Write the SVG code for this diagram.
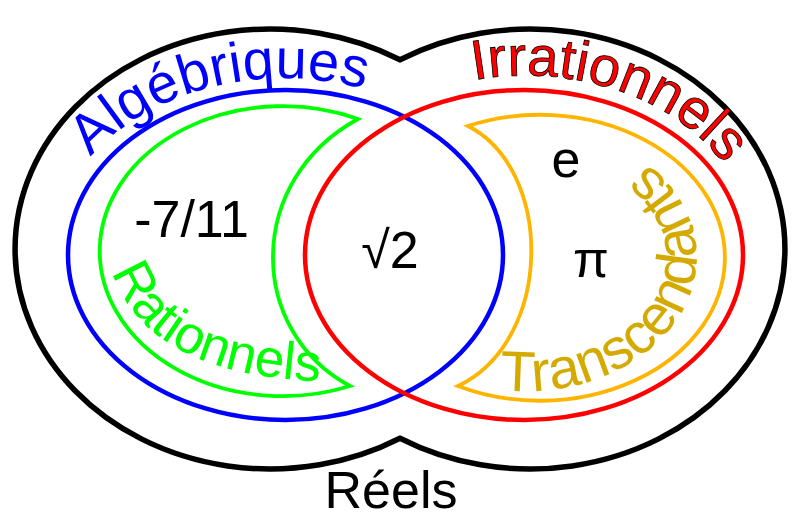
<svg xmlns="http://www.w3.org/2000/svg" xmlns:xlink="http://www.w3.org/1999/xlink" width="800" height="518" viewBox="0 0 800 518">
<style>
.t{font-family:"Liberation Sans",Arial,sans-serif;font-size:52px}
.c{font-size:56px}
.shape{fill:none}
</style>
<defs>
<path id="pAlg" d="M91,157 A232,176 0 0,1 503,195.5"/>
<path id="pIrr" d="M474,80 A229,176 0 0,1 751.5,224.3"/>
<path id="pRat" d="M112,272 C135,335 195,380 340,382"/>
<path id="pTra" d="M500,390 A172,134 0 0,0 613.5,142.7"/>
</defs>
<rect width="800" height="518" fill="#fff"/>
<g id="reels">
<path class="shape" d="M400,59.7 A255,220 0 1,0 400,438.3 A255,220 0 1,0 400,59.7 Z" stroke="#000" stroke-width="5.5"/>
<text class="t" x="391" y="508" text-anchor="middle" fill="#000">Réels</text>
</g>
<g id="algebriques">
<ellipse class="shape" cx="285.5" cy="255" rx="217.5" ry="165" stroke="#0000ff" stroke-width="4.5"/>
<text class="t c" fill="#0000ff"><textPath xlink:href="#pAlg" href="#pAlg">Algébriques</textPath></text>
</g>
<g id="irrationnels">
<ellipse class="shape" cx="524" cy="255" rx="219" ry="165" stroke="#ff0000" stroke-width="4.5"/>
<text class="t c" fill="#ff0000" stroke="#000" stroke-width="0.8"><textPath xlink:href="#pIrr" href="#pIrr">Irrationnels</textPath></text>
</g>
<g id="rationnels">
<path class="shape" d="M358,119 A183,145 0 1,0 350,386 C246,330 246,180 358,119 Z" stroke="#00ff00" stroke-width="3.8" stroke-linejoin="miter"/>
<text class="t" style="font-size:53px" fill="#00ff00"><textPath xlink:href="#pRat" href="#pRat">Rationnels</textPath></text>
<text class="t" x="191.5" y="237" text-anchor="middle" fill="#000">-7/11</text>
</g>
<g id="transcendants">
<path class="shape" d="M468,126 A185,143 0 1,1 458,386 C554,340 554,170 468,126 Z" stroke="#ffb400" stroke-width="3.8" stroke-linejoin="miter"/>
<text class="t" style="font-size:57px" fill="#d4aa00"><textPath xlink:href="#pTra" href="#pTra">Transcendants</textPath></text>
<text class="t" x="566" y="177" text-anchor="middle" fill="#000">e</text>
<text class="t" x="591" y="277" text-anchor="middle" fill="#000">π</text>
</g>
<g id="sqrt2">
<text class="t" x="390" y="268" text-anchor="middle" fill="#000">√2</text>
</g>
<g id="connectors"></g>
</svg>
